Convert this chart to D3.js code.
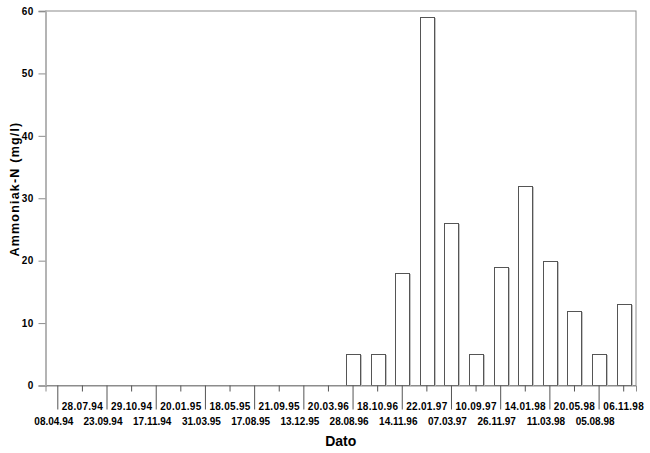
<!DOCTYPE html>
<html>
<head>
<meta charset="utf-8">
<script src="https://cdn.jsdelivr.net/npm/d3@7"></script>
<style>
  body { margin: 0; background: #fff; }
  svg text { font-family: "Liberation Sans", Arial, sans-serif; font-weight: bold; fill: #000; }
</style>
</head>
<body>
<svg id="chart" viewBox="0 0 650 453" width="650" height="453"></svg>
<script>
// sampling dates (x categories)
const dates = ["08.04.94", "28.07.94", "23.09.94", "29.10.94", "17.11.94", "20.01.95",
    "31.03.95", "18.05.95", "17.08.95", "21.09.95", "13.12.95", "20.03.96",
    "28.08.96", "18.10.96", "14.11.96", "22.01.97", "07.03.97", "10.09.97",
    "26.11.97", "14.01.98", "11.03.98", "20.05.98", "05.08.98", "06.11.98"];

// Ammoniak-N (mg/l)
const ammoniak = [0, 0, 0, 0, 0, 0, 0, 0, 0, 0, 0, 0,
    5, 5, 18, 59, 26, 5, 19, 32, 20, 12, 5, 13];

const yTicks = [0, 10, 20, 30, 40, 50, 60];

const svg = d3.select("#chart");
const mLeft = 45.5, mRight = 636, mTop = 11, mBottom = 385.5;

const x = d3.scaleBand()
    .domain(dates)
    .range([mLeft, mRight])
    .paddingInner(0.43)
    .paddingOuter(0.215);

const y = d3.scaleLinear()
    .domain([0, 60])
    .range([mBottom, mTop]);

// frame
svg.append("rect")
    .attr("x", mLeft).attr("y", mTop)
    .attr("width", mRight - mLeft).attr("height", mBottom - mTop)
    .attr("fill", "none")
    .attr("stroke", "#8c8c8c");

// bars (with a faint shadow on the right)
const data = dates.map((d, i) => ({ date: d, value: ammoniak[i] }));
const shown = data.filter(d => d.value > 0);
const bw = Math.round(x.bandwidth());

svg.append("g")
    .selectAll("rect")
    .data(shown)
    .enter()
    .append("rect")
    .attr("x", d => Math.round(x(d.date)) + 1.5)
    .attr("y", d => Math.round(y(d.value)) + 1.5)
    .attr("width", bw)
    .attr("height", d => mBottom - Math.round(y(d.value)) - 1.5)
    .attr("fill", "#fff")
    .attr("stroke", "#c4c4c4");

svg.append("g")
    .selectAll("rect")
    .data(shown)
    .enter()
    .append("rect")
    .attr("x", d => Math.round(x(d.date)) + 0.5)
    .attr("y", d => Math.round(y(d.value)) + 0.5)
    .attr("width", bw)
    .attr("height", d => mBottom - Math.round(y(d.value)) - 0.5)
    .attr("fill", "#fff")
    .attr("stroke", "#555");

// y axis
const yAxis = svg.append("g")
    .attr("transform", `translate(${mLeft},0)`)
    .call(d3.axisLeft(y).tickValues(yTicks).tickSize(7).tickPadding(5));
yAxis.select(".domain").attr("stroke", "#b4b4b4").attr("stroke-width", 2);
yAxis.selectAll(".tick line").attr("stroke", "#8c8c8c");
yAxis.selectAll(".tick text").attr("font-size", 10).attr("letter-spacing", 0.3);

// x axis, staggered labels
const xAxis = svg.append("g")
    .attr("transform", `translate(0,${mBottom})`)
    .call(d3.axisBottom(x).tickSizeOuter(0).tickSize(6));
xAxis.select(".domain").attr("stroke", "#8c8c8c");
xAxis.selectAll(".tick line")
    .attr("stroke", "#555")
    .attr("y2", (d, i) => i % 2 === 0 ? 24 : 6);
xAxis.selectAll(".tick text")
    .attr("font-size", 10)
    .attr("letter-spacing", (d, i) => i % 2 === 0 ? 0 : 0.3)
    .attr("dy", null)
    .attr("x", (d, i) => i % 2 === 0 ? -4 : 0)
    .attr("y", (d, i) => i % 2 === 0 ? 39 : 24);

// axis titles
svg.append("text")
    .attr("x", (mLeft + mRight) / 2)
    .attr("y", 446)
    .attr("text-anchor", "middle")
    .attr("font-size", 14)
    .text("Dato");

svg.append("text")
    .attr("transform", "translate(19,189) rotate(-90)")
    .attr("text-anchor", "middle")
    .attr("font-size", 12.5)
    .attr("letter-spacing", 1.2)
    .text("Ammoniak-N (mg/l)");
</script>
</body>
</html>
